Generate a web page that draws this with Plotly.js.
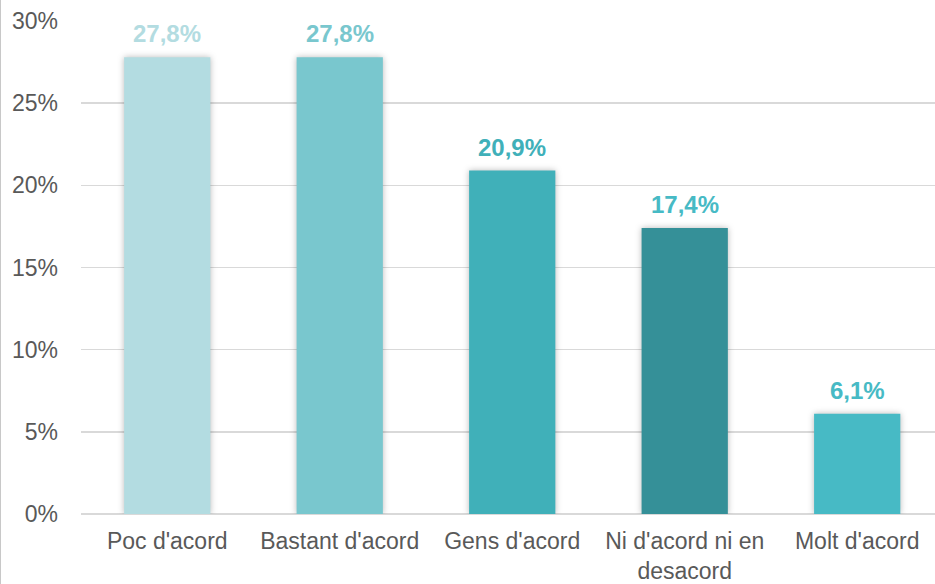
<!DOCTYPE html>
<html>
<head>
<meta charset="utf-8">
<script src="https://cdn.plot.ly/plotly-3.0.1.min.js"></script>
<style>
  html, body { margin: 0; padding: 0; background: #fff; }
  #chart { width: 934px; height: 584px; border-left: 1px solid #c8c8c8; }
  .barlayer .point path { filter: drop-shadow(0px 0px 3px rgba(0,0,0,0.28)); }
</style>
</head>
<body>
<div id="chart"></div>
<script>
const categories = ["Poc d'acord", "Bastant d'acord", "Gens d'acord", "Ni d'acord ni en<br>desacord", "Molt d'acord"];
const values = [27.8, 27.8, 20.9, 17.4, 6.1];
const barColors = ["#b3dce1", "#79c7ce", "#40b0b9", "#359098", "#47bac5"];
const labelColors = ["#b3dce1", "#79c7ce", "#40b0b9", "#47bac5", "#47bac5"];
const yTicks = [0, 5, 10, 15, 20, 25, 30];

const trace = {
  type: 'bar',
  x: categories,
  y: values,
  width: 0.5,
  marker: { color: barColors },
  hoverinfo: 'none'
};

const annotations = values.map((v, i) => ({
  x: categories[i],
  y: v,
  xref: 'x', yref: 'y',
  text: v.toFixed(1).replace('.', ',') + '%',
  showarrow: false,
  yanchor: 'bottom',
  yshift: 8,
  font: { family: 'Liberation Sans, Arial, sans-serif', size: 24, color: labelColors[i], weight: 'bold' }
}));

const layout = {
  width: 934,
  height: 584,
  margin: { l: 80, r: 0, t: 21, b: 70 },
  paper_bgcolor: '#ffffff',
  plot_bgcolor: '#ffffff',
  showlegend: false,
  separators: ',.',
  font: { family: 'Liberation Sans, Arial, sans-serif', color: '#595959', size: 23 },
  xaxis: {
    type: 'category',
    range: [-0.5, 4.451],
    showgrid: false,
    showline: false,
    zeroline: false,
    ticks: '',
    ticklabelstandoff: 11,
    tickfont: { size: 23, color: '#595959' },
    fixedrange: true
  },
  yaxis: {
    range: [0, 30],
    tickvals: yTicks,
    ticktext: yTicks.map(t => t + '%'),
    showgrid: true,
    gridcolor: '#d9d9d9',
    gridwidth: 1.5,
    zeroline: true,
    zerolinecolor: '#d9d9d9',
    zerolinewidth: 1.5,
    showline: false,
    ticks: '',
    ticklabelstandoff: 22,
    tickfont: { size: 23, color: '#595959' },
    fixedrange: true
  },
  annotations: annotations
};

Plotly.newPlot('chart', [trace], layout, { displayModeBar: false, staticPlot: true });
</script>
</body>
</html>
